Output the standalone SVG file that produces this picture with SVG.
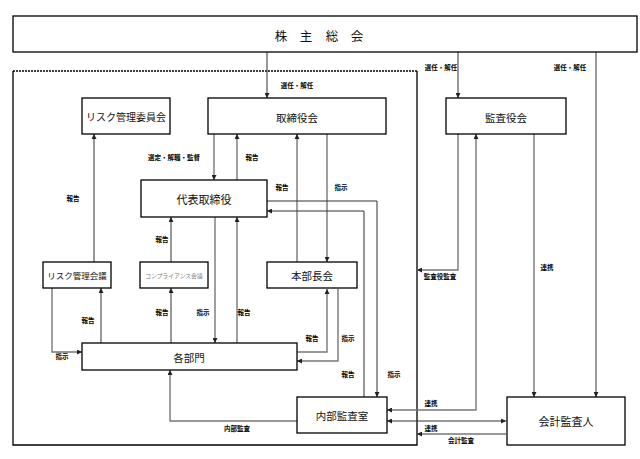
<svg xmlns="http://www.w3.org/2000/svg" width="640" height="459" viewBox="0 0 640 459">
<defs>
<marker id="a" viewBox="0 0 6 6" refX="6" refY="3" markerWidth="5" markerHeight="5" markerUnits="userSpaceOnUse" orient="auto-start-reverse"><path d="M0,0 L6,3 L0,6 z" fill="#222"/></marker>
<style>
.n{fill:#fff;stroke:#000;stroke-width:1.3}
.t{font-family:"Noto Sans CJK JP","Noto Sans CJK SC",sans-serif;font-size:10.5px;fill:#111;text-anchor:middle;dominant-baseline:central}
.l{font-family:"Noto Sans CJK JP","Noto Sans CJK SC",sans-serif;font-size:6.5px;font-weight:bold;fill:#000;text-anchor:middle;dominant-baseline:central}
.c{fill:none;stroke:#333;stroke-width:1}
.g{fill:none;stroke:#777;stroke-width:1.4}
.e{marker-end:url(#a)}
.b{marker-start:url(#a);marker-end:url(#a)}
</style>
</defs>
<rect width="640" height="459" fill="#fff"/>

<g id="company-frame">
<path d="M13,71 H417" fill="none" stroke="#000" stroke-width="1.3" stroke-dasharray="2,1"/>
<path d="M13,71 V445 H417 V71" fill="none" stroke="#000" stroke-width="1.3"/>
</g>

<g id="connectors">
<path class="c e" d="M267,52 V98"/>
<path class="c e" d="M458,52 V98"/>
<path class="e" d="M596,52 V397" fill="none" stroke="#999" stroke-width="2"/>
<path class="g e" d="M214,134 V180"/>
<path class="g e" d="M237,180 V134"/>
<path class="g e" d="M297,262 V134"/>
<path class="g e" d="M327,134 V262"/>
<path class="c e" d="M94,262 V134"/>
<path class="c e" d="M171,262 V217"/>
<path class="g e" d="M215,217 V343"/>
<path class="g e" d="M237,343 V217"/>
<path class="c e" d="M171,343 V288"/>
<path class="c e" d="M101,343 V288"/>
<path class="g e" d="M52,288 V352 H82"/>
<path class="g e" d="M297,352 H327 V289"/>
<path class="g e" d="M338,289 V361 H297"/>
<path class="c e" d="M267,201 H377 V397"/>
<path class="c e" d="M364,397 V211 H267"/>
<path class="g e" d="M458,134 V270 H417"/>
<path class="g b" d="M387,410 H476 V134"/>
<path class="g e" d="M534,134 V397"/>
<path class="c b" d="M387,421 H506"/>
<path class="c e" d="M506,434 H417"/>
<path class="g e" d="M297,421 H170 V370"/>
</g>

<g id="labels">
<text class="l" x="297" y="85">選任・解任</text>
<text class="l" x="441" y="67">選任・解任</text>
<text class="l" x="570" y="67">選任・解任</text>
<text class="l" x="174" y="157">選定・解職・監督</text>
<text class="l" x="252" y="157">報告</text>
<text class="l" x="282" y="187">報告</text>
<text class="l" x="341" y="187">指示</text>
<text class="l" x="73" y="198">報告</text>
<text class="l" x="162" y="239">報告</text>
<text class="l" x="162" y="312">報告</text>
<text class="l" x="203" y="312">指示</text>
<text class="l" x="244" y="312">報告</text>
<text class="l" x="88" y="320">報告</text>
<text class="l" x="62" y="356">指示</text>
<text class="l" x="312" y="338">報告</text>
<text class="l" x="348" y="338">指示</text>
<text class="l" x="348" y="374">報告</text>
<text class="l" x="394" y="374">指示</text>
<text class="l" x="440" y="276">監査役監査</text>
<text class="l" x="547" y="267">連携</text>
<text class="l" x="431" y="403">連携</text>
<text class="l" x="431" y="428">連携</text>
<text class="l" x="237" y="428">内部監査</text>
<text class="l" x="461" y="440">会計監査</text>
</g>

<g id="shareholders">
<rect class="n" x="13" y="16" width="624" height="36"/>
<text class="t" style="font-size:12.5px" x="281 306 332 357" y="35">株主総会</text>
</g>
<g id="risk-committee">
<rect class="n" x="82" y="98" width="88" height="36"/>
<text class="t" style="font-size:10px" x="126" y="116">リスク管理委員会</text>
</g>
<g id="board">
<rect class="n" x="208" y="98" width="178" height="36"/>
<text class="t" x="297" y="117">取締役会</text>
</g>
<g id="auditors-board">
<rect class="n" x="446" y="98" width="120" height="36"/>
<text class="t" x="506" y="117">監査役会</text>
</g>
<g id="representative">
<rect class="n" x="141" y="180" width="126" height="37"/>
<text class="t" style="font-size:11px" x="204" y="199">代表取締役</text>
</g>
<g id="risk-meeting">
<rect class="n" x="43" y="262" width="68" height="26"/>
<text class="t" style="font-size:8.5px" x="77" y="275">リスク管理会議</text>
</g>
<g id="compliance-meeting">
<rect class="n" x="140" y="262" width="68" height="26"/>
<text class="t" style="font-size:5.8px;fill:#777" x="174" y="275">コンプライアンス会議</text>
</g>
<g id="executive-meeting">
<rect class="n" x="267" y="262" width="90" height="26"/>
<text class="t" x="312" y="275">本部長会</text>
</g>
<g id="departments">
<rect class="n" x="82" y="343" width="215" height="27"/>
<text class="t" x="189" y="357">各部門</text>
</g>
<g id="internal-audit">
<rect class="n" x="297" y="397" width="90" height="36"/>
<text class="t" x="342" y="415">内部監査室</text>
</g>
<g id="accounting-auditor">
<rect class="n" x="507" y="397" width="118" height="48"/>
<text class="t" style="font-size:11px" x="566" y="421">会計監査人</text>
</g>
</svg>
